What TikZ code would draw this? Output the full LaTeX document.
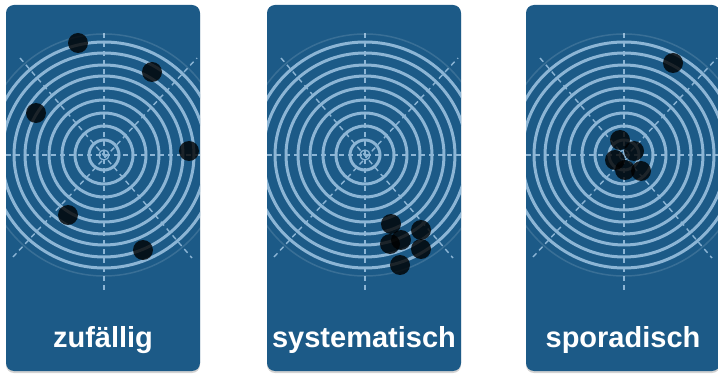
\documentclass[tikz,border=0pt]{standalone}
\usepackage{fontspec}
\setmainfont{Liberation Sans}
\usepackage{tikz}
\usetikzlibrary{shadows}
\definecolor{panel}{HTML}{1C5A87}
\definecolor{ringblue}{HTML}{8CB5D5}
\colorlet{shot}{black}

\begin{document}
\begin{tikzpicture}[x=1pt,y=-1pt,
    ring/.style={ringblue,line width=3pt},
    cross/.style={ringblue,line width=1.4pt,dash pattern=on 5pt off 4pt},
    hit/.style={fill=shot,fill opacity=0.8},
    caption/.style={white,font=\fontsize{29}{31}\selectfont\bfseries}]
  \useasboundingbox (0,0) rectangle (718,374);

  % three target panels
  \foreach \px/\name in {6/zufällig,267/systematisch,526/sporadisch}{
    \pgfmathsetmacro{\cx}{\px+98}
    \fill[panel,rounded corners=8pt,
      drop shadow={shadow xshift=0pt,shadow yshift=-2pt,opacity=0.35}]
      (\px,5) rectangle ++(194,366);
    \begin{scope}
      \clip[rounded corners=8pt] (\px,5) rectangle ++(194,366);
      \foreach \r in {15,29,42,55,67,79,90,102,113}
        \draw[ring] (\cx,155) circle[radius=\r];
      \draw[ringblue,line width=1.3pt] (\cx,155) circle[radius=5];
      \draw[cross] (\cx,33) -- (\cx,290);
      \draw[cross] (\px,155) -- ++(194,0);
      \draw[cross] (\cx-91,257) -- (\cx+93,58);
      \draw[cross] (\cx-84,58) -- (\cx+88,258);
    \end{scope}
    \draw[white,opacity=0.13,line width=1.5pt] (\cx,155) circle[radius=121];
    \node[caption,anchor=base] (label\px) at (\px+97,347) {\name};
  }

  % shots
  \foreach \x/\y in {78/43,152/72,36/113,189/151,68/215,143/250,
                     391/224,421/230,390/244,401/240,421/249,400/265,
                     673/63,620/140,634/151,615/160,625/170,641/171}
    \fill[hit] (\x,\y) circle[radius=10];
\end{tikzpicture}
\end{document}
